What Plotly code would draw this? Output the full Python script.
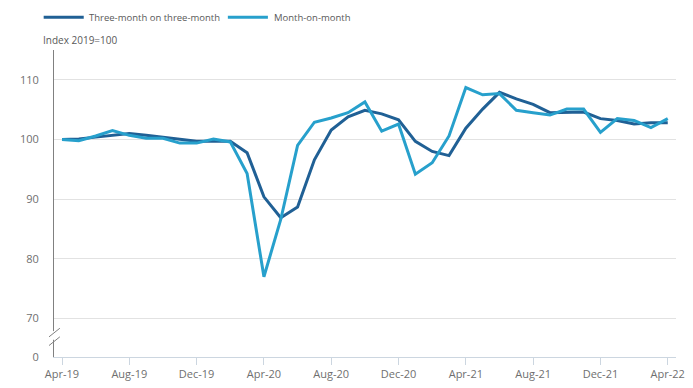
import plotly.graph_objects as go

months = ["Apr-19","May-19","Jun-19","Jul-19","Aug-19","Sep-19","Oct-19","Nov-19","Dec-19","Jan-20","Feb-20","Mar-20",
          "Apr-20","May-20","Jun-20","Jul-20","Aug-20","Sep-20","Oct-20","Nov-20","Dec-20","Jan-21","Feb-21","Mar-21",
          "Apr-21","May-21","Jun-21","Jul-21","Aug-21","Sep-21","Oct-21","Nov-21","Dec-21","Jan-22","Feb-22","Mar-22","Apr-22"]

three_month = [100.0, 100.1, 100.4, 100.7, 101.0, 100.7, 100.4, 100.0, 99.7, 99.7, 99.7, 97.8,
               90.4, 86.9, 88.7, 96.6, 101.6, 103.8, 104.9, 104.3, 103.3, 99.7, 98.0, 97.3,
               101.9, 105.1, 107.9, 106.8, 105.9, 104.5, 104.6, 104.6, 103.5, 103.2, 102.6, 102.8, 102.8]

month_on_month = [100.0, 99.8, 100.6, 101.5, 100.7, 100.2, 100.2, 99.4, 99.4, 100.1, 99.6, 94.3,
                  77.0, 86.6, 99.0, 102.9, 103.6, 104.5, 106.3, 101.4, 102.6, 94.2, 96.1, 100.6,
                  108.7, 107.5, 107.7, 104.9, 104.5, 104.1, 105.1, 105.1, 101.2, 103.5, 103.2, 102.0, 103.5]

series_names = ["Three-month on three-month", "Month-on-month"]
y_tick_values = [70, 80, 90, 100, 110]
y_tick_labels = ["70", "80", "90", "100", "110"]
x_tick_labels = months[::4]

# broken axis: the "0" sits just below the break
ZERO_POS = 63.56
Y_TOP = 115.0

DARK = "#206095"
LIGHT = "#27a0cc"
TEXT = "#6f6f6f"
LEG_TEXT = "#595959"

fig = go.Figure()
fig.add_trace(go.Scatter(x=months, y=three_month, mode="lines", name=series_names[0],
                         line=dict(color=DARK, width=3), showlegend=False))
fig.add_trace(go.Scatter(x=months, y=month_on_month, mode="lines", name=series_names[1],
                         line=dict(color=LIGHT, width=3), showlegend=False))

# legend drawn as key lines + text (positions in paper units of the plot area)
LEG_Y = 1.107
legend_items = [(series_names[0], DARK, -0.0166, 0.0478, 0.0536),
                (series_names[1], LIGHT, 0.2795, 0.3439, 0.3500)]
shapes = []
annotations = []
for name, col, xa, xb, xt in legend_items:
    shapes.append(dict(type="line", xref="paper", yref="paper", x0=xa, x1=xb, y0=LEG_Y, y1=LEG_Y,
                       line=dict(color=col, width=3)))
    annotations.append(dict(text=name, xref="paper", yref="paper", x=xt, y=LEG_Y,
                            xanchor="left", yanchor="middle", showarrow=False,
                            font=dict(family="Open Sans", size=9.5, color=LEG_TEXT)))

annotations.append(dict(text="Index 2019=100", xref="paper", yref="paper", x=-0.021, y=1.0,
                        xanchor="left", yanchor="bottom", yshift=1, showarrow=False,
                        font=dict(family="Open Sans", size=10, color=LEG_TEXT)))

# axis break marks
shapes += [
    dict(type="line", xref="paper", yref="y", x0=0, x1=0, y0=66.45, y1=67.9,
         line=dict(color="white", width=4)),
    dict(type="line", xref="paper", yref="y", x0=-0.008, x1=0.0094, y0=66.94, y1=68.38,
         line=dict(color="#808080", width=1)),
    dict(type="line", xref="paper", yref="y", x0=-0.008, x1=0.0094, y0=65.48, y1=66.94,
         line=dict(color="#808080", width=1)),
]

fig.update_layout(
    width=693, height=388,
    margin=dict(l=54, r=17, t=50, b=31, autoexpand=False),
    paper_bgcolor="white", plot_bgcolor="white",
    font=dict(family="Open Sans", size=11, color=TEXT),
    showlegend=False,
    xaxis=dict(type="category", categoryorder="array", categoryarray=months,
               range=[-0.476, 36.49], automargin=False,
               tickmode="array", tickvals=x_tick_labels, ticktext=x_tick_labels,
               ticks="outside", ticklen=7, tickcolor="#ccd6e0", tickwidth=1,
               showline=True, linecolor="#ccd6e0", linewidth=1,
               showgrid=False, zeroline=False,
               tickfont=dict(size=11, color=TEXT)),
    yaxis=dict(range=[ZERO_POS, Y_TOP], automargin=False,
               tickmode="array", tickvals=[ZERO_POS] + y_tick_values, ticktext=["0"] + y_tick_labels,
               ticks="outside", ticklen=12, tickcolor="rgba(0,0,0,0)",
               showline=True, linecolor="#808080", linewidth=1,
               showgrid=True, gridcolor="#e2e2e2", gridwidth=1, zeroline=False,
               tickfont=dict(size=11, color=TEXT)),
    annotations=annotations,
    shapes=shapes,
)

fig.write_html("out.html",
               config={"displayModeBar": False},
               post_script="document.body.style.margin='0';document.body.style.overflow='hidden';")
